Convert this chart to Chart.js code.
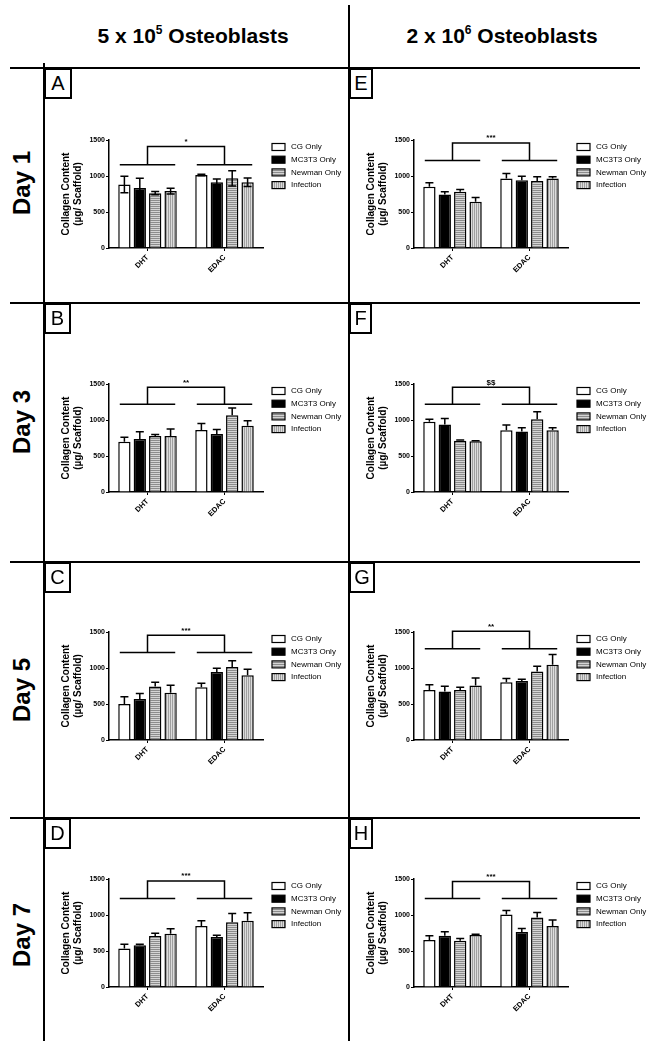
<!DOCTYPE html>
<html>
<head>
<meta charset="utf-8">
<script src="https://cdn.jsdelivr.net/npm/chart.js@4.4.1/dist/chart.umd.min.js"></script>
<style>
  body { margin: 0; background: #fff; width: 650px; height: 1041px; position: relative; overflow: hidden; font-family: "Liberation Sans", Arial, sans-serif; }
  .ln { position: absolute; background: #000; }
  .hd { position: absolute; top: 24px; font-weight: bold; font-size: 21px; line-height: 24px; white-space: nowrap; transform: translateX(-50%); }
  .hd sup { font-size: 12px; vertical-align: baseline; position: relative; top: -9px; }
  .day { position: absolute; font-weight: bold; font-size: 24px; white-space: nowrap; transform: translate(-50%, -50%) rotate(-90deg); }
  .lt { position: absolute; border: 2px solid #000; box-sizing: border-box; font-size: 20px; text-align: center; line-height: 27px; background: #fff; }
  canvas { position: absolute; }
</style>
</head>
<body>

<div class="hd" style="left:193px">5 x 10<sup>5</sup> Osteoblasts</div>
<div class="hd" style="left:502px">2 x 10<sup>6</sup> Osteoblasts</div>

<div class="day" style="left:22px;top:183px">Day 1</div>
<div class="day" style="left:22px;top:422px">Day 3</div>
<div class="day" style="left:22px;top:690px">Day 5</div>
<div class="day" style="left:22px;top:935px">Day 7</div>

<canvas id="A" width="300" height="183"></canvas>
<canvas id="E" width="300" height="183"></canvas>
<canvas id="B" width="300" height="183"></canvas>
<canvas id="F" width="300" height="183"></canvas>
<canvas id="C" width="300" height="183"></canvas>
<canvas id="G" width="300" height="183"></canvas>
<canvas id="D" width="300" height="183"></canvas>
<canvas id="H" width="300" height="183"></canvas>

<!-- frame -->
<div class="ln" style="left:348px;top:5px;width:2px;height:1036px"></div>
<div class="ln" style="left:43px;top:63px;width:2px;height:978px"></div>
<div class="ln" style="left:10px;top:67px;width:630px;height:2px"></div>
<div class="ln" style="left:10px;top:302px;width:630px;height:2px"></div>
<div class="ln" style="left:10px;top:561px;width:630px;height:2px"></div>
<div class="ln" style="left:10px;top:817px;width:630px;height:2px"></div>

<div class="lt" style="left:44px;top:68px;width:28px;height:31px">A</div>
<div class="lt" style="left:44px;top:303px;width:27px;height:31px">B</div>
<div class="lt" style="left:44px;top:562px;width:27px;height:31px">C</div>
<div class="lt" style="left:44px;top:818px;width:27px;height:31px">D</div>
<div class="lt" style="left:349px;top:68px;width:24px;height:31px">E</div>
<div class="lt" style="left:349px;top:303px;width:23px;height:31px">F</div>
<div class="lt" style="left:349px;top:562px;width:26px;height:31px">G</div>
<div class="lt" style="left:349px;top:818px;width:24px;height:31px">H</div>

<script>
// Datos
const categorias = ['DHT', 'EDAC'];
const series = ['CG Only', 'MC3T3 Only', 'Newman Only', 'Infection'];
const ticksY = [0, 500, 1000, 1500];

// means per series: [DHT, EDAC]  (order: CG, MC3T3, Newman, Infection)
const meanA = [[881, 1014], [835, 913], [762, 968], [790, 913]];
const errA  = [[115, 10], [133, 46], [23, 106], [40, 60]];
const meanB = [[699, 860], [736, 805], [777, 1067], [777, 920]];
const errB  = [[60, 92], [101, 64], [23, 101], [97, 69]];
const meanC = [[500, 734], [569, 945], [743, 1014], [656, 899]];
const errC  = [[101, 55], [78, 50], [60, 87], [105, 83]];
const meanD = [[534, 846], [580, 695], [708, 901], [741, 920]];
const errD  = [[59, 74], [13, 23], [37, 120], [69, 110]];
const meanE = [[849, 965], [743, 941], [780, 932], [641, 965]];
const errE  = [[56, 69], [37, 56], [32, 56], [60, 23]];
const meanF = [[975, 856], [938, 842], [713, 1012], [704, 856]];
const errF  = [[37, 73], [83, 50], [9, 101], [9, 36]];
const meanG = [[693, 803], [674, 821], [693, 950], [757, 1046]];
const errG  = [[73, 50], [74, 23], [41, 73], [105, 142]];
const meanH = [[653, 1007], [713, 764], [644, 966], [722, 846]];
const errH  = [[60, 56], [55, 50], [28, 69], [9, 83]];

// bracket heights [top, lower] and significance marks
const bracketA = [1409, 1157], sigA = '*';
const bracketB = [1454, 1219], sigB = '**';
const bracketC = [1454, 1216], sigC = '***';
const bracketD = [1472, 1228], sigD = '***';
const bracketE = [1458, 1214], sigE = '***';
const bracketF = [1454, 1219], sigF = '$$';
const bracketG = [1509, 1266], sigG = '**';
const bracketH = [1467, 1228], sigH = '***';

// Patterns
function patron(bg, line, vertical) {
  const c = document.createElement('canvas');
  c.width = 2; c.height = 2;
  const g = c.getContext('2d');
  g.fillStyle = bg;
  g.fillRect(0, 0, 2, 2);
  g.fillStyle = line;
  if (vertical) g.fillRect(0, 0, 1, 2);
  else g.fillRect(0, 0, 2, 1);
  return g.createPattern(c, 'repeat');
}
const colores = ['#ffffff', '#000000', patron('#d4d4d4', '#8c8c8c', false), patron('#dcdcdc', '#a0a0a0', true)];

// error bars, bracket and legend
const extras = {
  id: 'extras',
  afterDatasetsDraw(chart) {
    const p = chart.options.plugins.extras;
    const ctx = chart.ctx;
    const x = chart.scales.x, y = chart.scales.y;
    ctx.save();
    ctx.strokeStyle = '#000';
    ctx.lineWidth = 1.5;

    chart.data.datasets.forEach((ds, i) => {
      chart.getDatasetMeta(i).data.forEach((bar, j) => {
        const v = ds.data[j], e = p.err[i][j];
        const yt = y.getPixelForValue(v + e);
        const yb = y.getPixelForValue(p.both ? v - e : v);
        ctx.beginPath();
        ctx.moveTo(bar.x, yb);
        ctx.lineTo(bar.x, yt);
        ctx.moveTo(bar.x - 4, yt);
        ctx.lineTo(bar.x + 4, yt);
        if (p.both) {
          ctx.moveTo(bar.x - 4, yb);
          ctx.lineTo(bar.x + 4, yb);
        }
        ctx.stroke();
      });
    });

    const c0 = x.getPixelForValue(0), c1 = x.getPixelForValue(1);
    const half = (c1 - c0) * 0.36;
    const yTop = y.getPixelForValue(p.bracket[0]);
    const yLow = y.getPixelForValue(p.bracket[1]);
    ctx.beginPath();
    ctx.moveTo(c0 - half, yLow); ctx.lineTo(c0 + half, yLow);
    ctx.moveTo(c1 - half, yLow); ctx.lineTo(c1 + half, yLow);
    ctx.moveTo(c0, yLow); ctx.lineTo(c0, yTop); ctx.lineTo(c1, yTop); ctx.lineTo(c1, yLow);
    ctx.stroke();
    ctx.fillStyle = '#000';
    ctx.font = 'bold 8px "Liberation Sans", Arial';
    ctx.textAlign = 'center';
    ctx.textBaseline = 'bottom';
    ctx.fillText(p.sig, (c0 + c1) / 2, yTop - 1);

    // legend
    const lx = chart.chartArea.right + 9;
    ctx.lineWidth = 1.2;
    ctx.font = '8px "Liberation Sans", Arial';
    ctx.textAlign = 'left';
    ctx.textBaseline = 'middle';
    chart.data.datasets.forEach((ds, i) => {
      const ly = chart.chartArea.top + 7 + i * 12.7;
      ctx.fillStyle = ds.backgroundColor;
      ctx.fillRect(lx, ly - 3.5, 13, 7);
      ctx.strokeRect(lx, ly - 3.5, 13, 7);
      ctx.fillStyle = '#000';
      ctx.fillText(ds.label, lx + 19, ly);
    });
    ctx.restore();
  }
};

function panel(id, left, top1500, mean, err, bracket, sig, both) {
  const cv = document.getElementById(id);
  cv.style.left = left + 'px';
  cv.style.top = (top1500 - 30) + 'px';
  const padLeft = left < 300 ? 15 : 14;
  const padRight = left < 300 ? 81 : 82;

  new Chart(cv, {
    type: 'bar',
    data: {
      labels: categorias,
      datasets: series.map((s, i) => ({
        label: s,
        data: mean[i],
        backgroundColor: colores[i],
        borderColor: '#000',
        borderWidth: 1.5,
        categoryPercentage: 0.8,
        barPercentage: 0.8
      }))
    },
    options: {
      responsive: false,
      animation: false,
      devicePixelRatio: 1,
      layout: { padding: { top: 30, left: padLeft, right: padRight, bottom: 0 } },
      plugins: {
        legend: { display: false },
        tooltip: { enabled: false },
        extras: { err: err, bracket: bracket, sig: sig, both: both }
      },
      scales: {
        x: {
          afterFit: s => { s.height = 45; },
          grid: { offset: false, drawOnChartArea: false, tickLength: 3, color: '#000' },
          border: { color: '#000', width: 1.5 },
          ticks: { color: '#000', minRotation: 45, maxRotation: 45, autoSkip: false, padding: 2,
                   font: { family: '"Liberation Sans", Arial', size: 7.5, weight: 'bold' } }
        },
        y: {
          min: ticksY[0],
          max: ticksY[ticksY.length - 1],
          afterFit: s => { s.width = 50; },
          afterBuildTicks: s => { s.ticks = ticksY.map(v => ({ value: v })); },
          grid: { drawOnChartArea: false, tickLength: 3, color: '#000' },
          border: { color: '#000', width: 1.5 },
          ticks: { color: '#000', padding: 1, callback: v => String(v),
                   font: { family: '"Liberation Sans", Arial', size: 7, weight: 'bold' } },
          title: {
            display: true,
            text: ['Collagen Content', '(µg/ Scaffold)'],
            color: '#000',
            padding: { top: 1, bottom: 0 },
            font: { family: '"Liberation Sans", Arial', size: 10, weight: 'bold', lineHeight: 1.2 }
          }
        }
      }
    },
    plugins: [extras]
  });
}

panel('A', 44, 140, meanA, errA, bracketA, sigA, true);
panel('B', 44, 384, meanB, errB, bracketB, sigB, false);
panel('C', 44, 632, meanC, errC, bracketC, sigC, false);
panel('D', 44, 879, meanD, errD, bracketD, sigD, false);
panel('E', 350, 140, meanE, errE, bracketE, sigE, false);
panel('F', 350, 384, meanF, errF, bracketF, sigF, false);
panel('G', 350, 632, meanG, errG, bracketG, sigG, false);
panel('H', 350, 879, meanH, errH, bracketH, sigH, false);
</script>
</body>
</html>
